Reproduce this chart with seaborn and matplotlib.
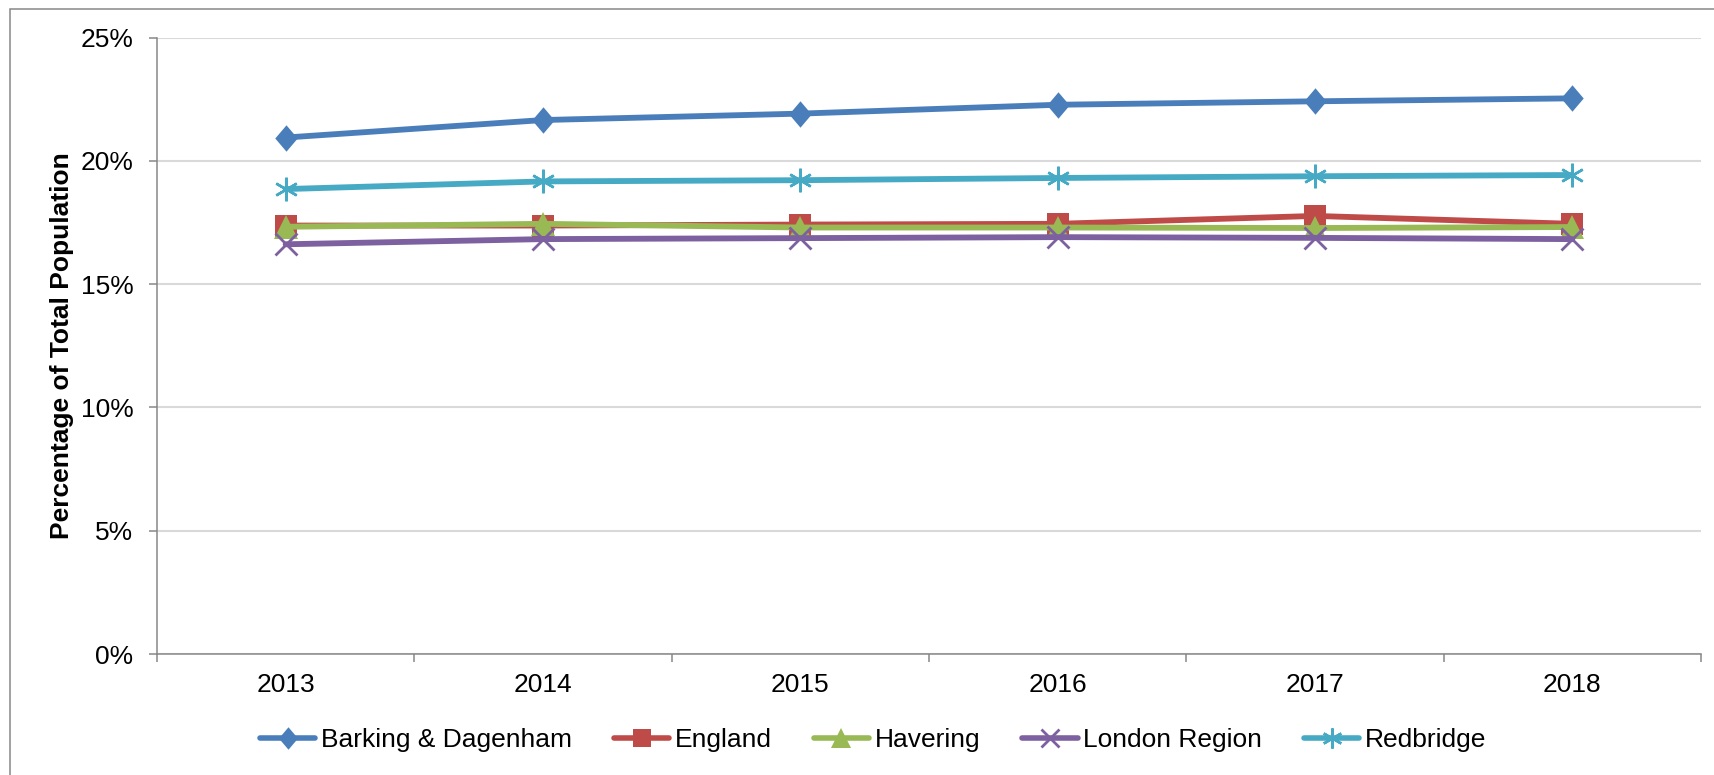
import matplotlib
matplotlib.use("Agg")
import matplotlib.pyplot as plt
import matplotlib.patches as mpatches
import seaborn as sns
import pandas as pd
from matplotlib.ticker import FuncFormatter, FixedLocator

years = ["2013", "2014", "2015", "2016", "2017", "2018"]
barking = [20.95, 21.66, 21.92, 22.28, 22.42, 22.54]
england = [17.38, 17.38, 17.42, 17.45, 17.77, 17.45]
havering = [17.33, 17.45, 17.30, 17.30, 17.28, 17.32]
london = [16.62, 16.83, 16.87, 16.91, 16.88, 16.83]
redbridge = [18.86, 19.17, 19.22, 19.31, 19.38, 19.43]

series = {
    "Barking & Dagenham": barking,
    "England": england,
    "Havering": havering,
    "London Region": london,
    "Redbridge": redbridge,
}
colors = ["#4A7EBB", "#BE4B48", "#98B954", "#7D60A0", "#46AAC5"]
# excel-like markers: diamond, square, triangle, x, asterisk
diamond = [(0, 1), (0.85, 0), (0, -1), (-0.85, 0), (0, 1)]
markers = [diamond, "s", "^", "x", (6, 2, 0)]
msizes = [19, 16, 17, 16, 17]
mews = [0, 0, 0, 2.0, 1.8]

rows = []
for name, vals in series.items():
    for i, (y, v) in enumerate(zip(years, vals)):
        rows.append({"pos": i, "year": y, "series": name, "value": v})
df = pd.DataFrame(rows)

sns.set_style("white")
plt.rcParams["font.family"] = ["Liberation Sans", "DejaVu Sans"]
plt.rcParams["text.color"] = "black"

W, H = 1715, 775
fig = plt.figure(figsize=(W / 100, H / 100), dpi=100)
ax = fig.add_axes([157 / W, 1 - 654 / H, (1701 - 157) / W, (654 - 37.7) / H])

for (name, sub), c, m, ms, mew in zip(df.groupby("series", sort=False), colors, markers, msizes, mews):
    sns.lineplot(data=sub, x="pos", y="value", ax=ax, color=c, lw=4.2,
                 marker=m, markersize=ms, markeredgecolor=c, markeredgewidth=mew,
                 label=name)

ax.set_xlim(-0.5, 5.5)
ax.set_ylim(0, 25)
ax.yaxis.set_major_locator(FixedLocator([0, 5, 10, 15, 20, 25]))
ax.yaxis.set_major_formatter(FuncFormatter(lambda v, p: f"{v:.0f}%"))
ax.grid(axis="y", color="#D9D9D9", lw=1.5)
ax.set_axisbelow(True)

# category boundaries as ticks, labels in the middle
ax.set_xticks([i - 0.5 for i in range(7)])
ax.set_xticklabels([])
ax.set_xticks(range(6), minor=True)
ax.set_xticklabels(years, minor=True)
ax.tick_params(axis="x", which="major", bottom=True, length=5.5, width=1.1,
               color="#878787", direction="out")
ax.tick_params(axis="x", which="minor", bottom=True, length=0, pad=14,
               labelsize=19, labelcolor="black")
ax.tick_params(axis="y", left=True, length=5.5, width=1.1, color="#878787",
               direction="out", labelsize=19, labelcolor="black", pad=11.5)

for s in ["top", "right"]:
    ax.spines[s].set_visible(False)
for s in ["left", "bottom"]:
    ax.spines[s].set_color("#878787")
    ax.spines[s].set_linewidth(1.1)

ax.set_xlabel("")
ax.set_ylabel("Percentage of Total Population", fontsize=19, fontweight="bold",
              labelpad=5, color="black")

leg = ax.legend(loc="center", bbox_to_anchor=(873 / W, 1 - 740 / H),
                bbox_transform=fig.transFigure, ncol=5, frameon=False, fontsize=19,
                handlelength=2.1, columnspacing=1.6, handletextpad=0.2)
for t, h, ms in zip(leg.get_texts(), leg.legend_handles, msizes):
    t.set_color("black")
    h.set_markersize(ms * 0.85)
    h.set_linewidth(4)

fig.patches.append(mpatches.Rectangle((9.8 / W, -0.1), 1.2, 1 - 8.75 / H + 0.1,
                                      transform=fig.transFigure, fill=False,
                                      edgecolor="#878787", lw=1.1))

fig.savefig("out.png", dpi=100)
